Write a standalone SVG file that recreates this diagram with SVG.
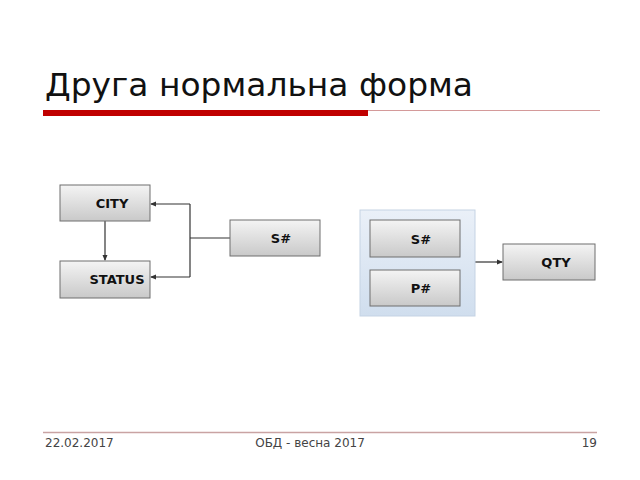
<svg xmlns="http://www.w3.org/2000/svg" width="640" height="480" viewBox="0 0 640 480">
<defs>
<linearGradient id="g" x1="0" y1="0" x2="0" y2="1">
<stop offset="0" stop-color="#f4f4f4"/>
<stop offset="1" stop-color="#c9c9c9"/>
</linearGradient>
<linearGradient id="gb" x1="0" y1="0" x2="0" y2="1">
<stop offset="0" stop-color="#eaf0f8"/>
<stop offset="1" stop-color="#d0deee"/>
</linearGradient>
<marker id="ar" markerWidth="6" markerHeight="6" refX="5" refY="3" orient="auto" markerUnits="userSpaceOnUse">
<path d="M0,0.5 L6,3 L0,5.5 Z" fill="#333"/>
</marker>
</defs>
<style>
.box{fill:url(#g);stroke:#6e6e6e;stroke-width:1}
.lbl{font-family:"DejaVu Sans",Verdana,sans-serif;font-weight:bold;font-size:13px;fill:#111;text-anchor:middle}
.c{fill:none;stroke:#333;stroke-width:1.2}
.ft{font-family:"DejaVu Sans",Verdana,sans-serif;font-size:12px;fill:#444}
</style>
<rect width="640" height="480" fill="#fff"/>
<text x="45" y="96" font-family="DejaVu Sans,Verdana,sans-serif" font-size="32" fill="#111" textLength="428" lengthAdjust="spacingAndGlyphs">Друга нормальна форма</text>
<rect x="43" y="110" width="325" height="6" fill="#c00000"/>
<line x1="368" y1="110.5" x2="600" y2="110.5" stroke="#d49a9a" stroke-width="1"/>
<g id="connectors">
<path class="c" d="M230,238 H190"/>
<path class="c" d="M190,204 V277"/>
<path class="c" d="M190,204 H151" marker-end="url(#ar)"/>
<path class="c" d="M190,277 H151" marker-end="url(#ar)"/>
<path class="c" d="M105,221 V260" marker-end="url(#ar)"/>
<path class="c" d="M475,262 H502" marker-end="url(#ar)"/>
</g>
<g id="city"><rect class="box" x="60" y="185" width="90" height="36"/><text class="lbl" x="112" y="208">CITY</text></g>
<g id="status"><rect class="box" x="60" y="261" width="90" height="37"/><text class="lbl" x="117" y="284">STATUS</text></g>
<g id="s1"><rect class="box" x="230" y="220" width="90" height="36"/><text class="lbl" x="281" y="243">S#</text></g>
<g id="group">
<rect x="360" y="210" width="115" height="106" fill="url(#gb)" stroke="#c5d3e4" stroke-width="1"/>
<g id="s2"><rect class="box" x="370" y="220" width="90" height="37"/><text class="lbl" x="421" y="244">S#</text></g>
<g id="p"><rect class="box" x="370" y="270" width="90" height="36"/><text class="lbl" x="421" y="293">P#</text></g>
</g>
<g id="qty"><rect class="box" x="503" y="244" width="92" height="36"/><text class="lbl" x="556" y="267">QTY</text></g>
<line x1="43" y1="432.5" x2="597" y2="432.5" stroke="#c9a3a3" stroke-width="1.5"/>
<text class="ft" x="45" y="447">22.02.2017</text>
<text class="ft" x="310" y="447" text-anchor="middle">ОБД - весна 2017</text>
<text class="ft" x="597" y="447" text-anchor="end">19</text>
</svg>
